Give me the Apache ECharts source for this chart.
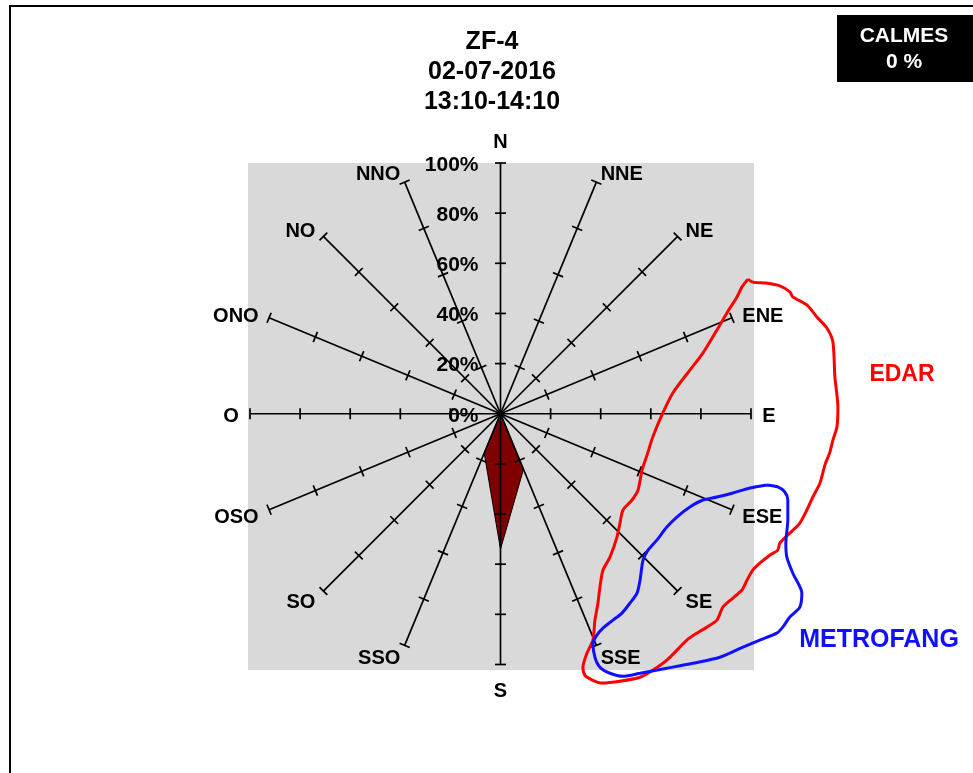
<!DOCTYPE html>
<html>
<head>
<meta charset="utf-8">
<script src="https://cdn.jsdelivr.net/npm/echarts@6/dist/echarts.min.js"></script>
<style>
  html, body { margin: 0; padding: 0; background: #ffffff; }
  #chart { width: 973px; height: 773px; }
</style>
</head>
<body>
<div id="chart"></div>
<script>
// Wind directions, clockwise from north (French abbreviations)
const directions = ['N', 'NNE', 'NE', 'ENE', 'E', 'ESE', 'SE', 'SSE',
                    'S', 'SSO', 'SO', 'OSO', 'O', 'ONO', 'NO', 'NNO'];
// Frequency of each direction, in %
const frequency = [0, 0, 0, 0, 0, 0, 0, 24, 54, 17, 0, 0, 0, 0, 0, 0];
// Radial scale
const ringTicks = [0, 20, 40, 60, 80, 100];
const ringLabels = ['0%', '20%', '40%', '60%', '80%', '100%'];
// Calm share
const calmPercent = 0;

// Sector outlines, as [east %, north %] on the rose scale
const edarOutline = [
  [98.8, 53.7], [100.7, 52.5], [105.9, 52.1], [111.5, 51.0], [115.5, 48.6], [116.7, 46.6],
  [122.3, 43.4], [126.3, 38.6], [130.3, 34.2], [132.7, 28.6], [133.5, 14.6], [134.7, 2.7],
  [134.3, -5.3], [132.7, -10.5], [131.5, -15.3], [129.5, -20.5], [127.5, -27.7], [124.7, -33.2],
  [122.3, -38.4], [119.5, -43.6], [115.5, -47.6], [111.5, -51.6], [110.7, -54.4], [107.5, -56.4],
  [103.5, -59.6], [100.7, -62.4], [98.4, -66.4], [96.4, -70.3], [92.8, -73.5], [88.8, -77.1],
  [86.4, -82.3], [82.4, -85.1], [78.4, -87.5], [74.4, -90.3], [66.4, -98.3], [60.8, -102.3],
  [55.7, -105.1], [47.7, -106.7], [40.5, -107.4], [36.9, -106.3], [33.7, -104.3], [32.9, -101.1],
  [34.5, -95.5], [36.9, -90.3], [37.7, -82.3], [38.9, -75.5], [39.7, -69.1], [40.9, -62.4],
  [43.7, -57.2], [46.5, -49.2], [47.7, -43.6], [48.9, -38.4], [52.5, -34.4], [54.9, -30.4],
  [56.5, -22.5], [58.5, -16.5], [60.8, -9.3], [64.8, 0.3], [68.8, 8.3], [75.6, 17.4],
  [80.8, 24.2], [86.4, 33.4], [90.4, 40.2], [94.4, 46.6], [96.4, 50.6], [98.8, 53.7]
];
const metrofangOutline = [
  [106.3, -28.4], [110.7, -29.2], [113.5, -31.2], [114.7, -34.4], [114.7, -42.4], [113.9, -51.6],
  [114.3, -57.2], [116.7, -63.6], [120.3, -71.5], [119.5, -77.1], [115.5, -81.1], [112.7, -85.1],
  [110.3, -87.5], [103.5, -90.3], [96.8, -93.1], [87.6, -97.1], [76.8, -99.5], [66.4, -101.5],
  [55.7, -103.5], [48.9, -104.7], [43.7, -103.5], [39.7, -101.1], [37.7, -97.1], [36.9, -91.5],
  [38.5, -88.3], [40.9, -85.5], [44.9, -82.3], [48.5, -79.5], [51.7, -75.5], [54.5, -71.5],
  [55.7, -66.4], [56.9, -58.4], [58.9, -54.4], [62.4, -50.4], [66.4, -45.2], [70.4, -41.2],
  [75.6, -37.2], [80.8, -34.4], [86.4, -33.2], [92.8, -31.6], [99.6, -29.6], [106.3, -28.4]
];

const FONT = '"Liberation Sans", Arial, Helvetica, sans-serif';
const STEP = 2 * Math.PI / directions.length;

// Plot-area square behind the rose, in rose units
const PLOT_AREA = { x0: -100.8, x1: 101.2, y0: -102.2, y1: 100 };
// Axis extent, wide enough to hold the outlines
const X_RANGE = [-100.8, 140];
const Y_RANGE = [-112, 100];
const PX_PER_UNIT_X = 506 / 202;
const PX_PER_UNIT_Y = 507 / 202.2;

// [east, north] position of radius r along direction i
function toXY(r, i) {
  const a = i * STEP;
  return [r * Math.sin(a), r * Math.cos(a)];
}

const roseVertices = frequency.map((v, i) => toXY(v, i));
const spokeEnds = directions.map((d, i) => toXY(ringTicks[ringTicks.length - 1], i));

const chart = echarts.init(document.getElementById('chart'), null, { renderer: 'canvas' });

const option = {
  animation: false,
  backgroundColor: '#ffffff',
  grid: {
    left: 248, top: 163,
    width: (X_RANGE[1] - X_RANGE[0]) * PX_PER_UNIT_X,
    height: (Y_RANGE[1] - Y_RANGE[0]) * PX_PER_UNIT_Y,
    show: false
  },
  xAxis: { type: 'value', min: X_RANGE[0], max: X_RANGE[1], show: false },
  yAxis: { type: 'value', min: Y_RANGE[0], max: Y_RANGE[1], show: false },
  graphic: [
    {
      type: 'rect', z: 100,
      shape: { x: 10, y: 6, width: 1000, height: 800 },
      style: { fill: 'none', stroke: '#000000', lineWidth: 2 }
    },
    {
      type: 'text', x: 492, y: 27, z: 100,
      style: {
        text: 'ZF-4\n02-07-2016\n13:10-14:10',
        fill: '#000000', font: 'bold 25px ' + FONT, lineHeight: 30,
        align: 'center', textAlign: 'center', verticalAlign: 'top', textVerticalAlign: 'top'
      }
    },
    {
      type: 'rect', z: 100,
      shape: { x: 837, y: 15, width: 140, height: 67 },
      style: { fill: '#000000' }
    },
    {
      type: 'text', x: 904, y: 49, z: 101,
      style: {
        text: 'CALMES\n' + calmPercent + ' %',
        fill: '#ffffff', font: 'bold 21px ' + FONT, lineHeight: 26,
        align: 'center', textAlign: 'center', verticalAlign: 'middle', textVerticalAlign: 'middle'
      }
    },
    {
      type: 'text', x: 902, y: 375, z: 100,
      style: {
        text: 'EDAR', fill: '#ff0000', font: 'bold 23px ' + FONT,
        align: 'center', textAlign: 'center', verticalAlign: 'middle', textVerticalAlign: 'middle'
      }
    },
    {
      type: 'text', x: 879, y: 640, z: 100,
      style: {
        text: 'METROFANG', fill: '#1010ff', font: 'bold 25px ' + FONT,
        align: 'center', textAlign: 'center', verticalAlign: 'middle', textVerticalAlign: 'middle'
      }
    }
  ],
  series: [
    {
      // grey plot area
      name: 'plot area', type: 'custom', z: 1,
      data: [[PLOT_AREA.x0, PLOT_AREA.y1]],
      renderItem: function (params, api) {
        const tl = api.coord([PLOT_AREA.x0, PLOT_AREA.y1]);
        const br = api.coord([PLOT_AREA.x1, PLOT_AREA.y0]);
        return {
          type: 'rect',
          shape: { x: tl[0], y: tl[1], width: br[0] - tl[0], height: br[1] - tl[1] },
          style: { fill: '#d9d9d9' }
        };
      }
    },
    {
      // frequency polygon
      name: 'rose', type: 'custom', z: 2,
      data: roseVertices,
      renderItem: function (params, api) {
        if (params.dataIndex !== 0) return null;
        const pts = roseVertices.map(p => api.coord(p));
        return {
          type: 'polygon',
          shape: { points: pts },
          style: { fill: '#800000', stroke: '#000000', lineWidth: 1 }
        };
      }
    },
    {
      // spokes with tick marks and end caps
      name: 'spokes', type: 'custom', z: 3,
      data: spokeEnds,
      renderItem: function (params, api) {
        const i = params.dataIndex;
        const a = i * STEP;
        const c = api.coord([0, 0]);
        const e = api.coord(spokeEnds[i]);
        const px = Math.cos(a), py = Math.sin(a);
        const half = 5.5;
        const children = [{
          type: 'line',
          shape: { x1: c[0], y1: c[1], x2: e[0], y2: e[1] },
          style: { stroke: '#000000', lineWidth: 1.7 }
        }];
        ringTicks.slice(1).forEach(function (t) {
          const p = api.coord(toXY(t, i));
          children.push({
            type: 'line',
            shape: { x1: p[0] - px * half, y1: p[1] - py * half, x2: p[0] + px * half, y2: p[1] + py * half },
            style: { stroke: '#000000', lineWidth: 1.7 }
          });
        });
        return { type: 'group', children: children };
      }
    },
    {
      // direction names
      name: 'directions', type: 'custom', z: 4,
      data: directions.map((d, i) => toXY(100, i)),
      renderItem: function (params, api) {
        const i = params.dataIndex;
        const s = Math.sin(i * STEP);
        const cardinalNS = Math.abs(s) < 0.01;
        const p = api.coord(toXY(cardinalNS ? 109.5 : 104.5, i));
        return {
          type: 'text',
          x: p[0], y: p[1] + 3,
          style: {
            text: directions[i],
            fill: '#000000',
            font: 'bold 20px ' + FONT,
            align: cardinalNS ? 'center' : (s > 0 ? 'left' : 'right'),
            verticalAlign: 'middle'
          }
        };
      }
    },
    {
      // radial percentage labels along the north spoke
      name: 'ring labels', type: 'custom', z: 5,
      data: ringTicks.map(t => [0, t]),
      renderItem: function (params, api) {
        const p = api.coord([0, ringTicks[params.dataIndex]]);
        return {
          type: 'text',
          x: p[0] - 22, y: p[1] + 2,
          style: {
            text: ringLabels[params.dataIndex],
            fill: '#000000',
            font: 'bold 21px ' + FONT,
            align: 'right',
            verticalAlign: 'middle'
          }
        };
      }
    },
    {
      name: 'EDAR', type: 'line', z: 10, clip: false,
      data: edarOutline, smooth: 0.25, symbol: 'none',
      lineStyle: { color: '#ff0000', width: 3 }
    },
    {
      name: 'METROFANG', type: 'line', z: 10, clip: false,
      data: metrofangOutline, smooth: 0.25, symbol: 'none',
      lineStyle: { color: '#1010ff', width: 3 }
    }
  ]
};

chart.setOption(option);
</script>
</body>
</html>
